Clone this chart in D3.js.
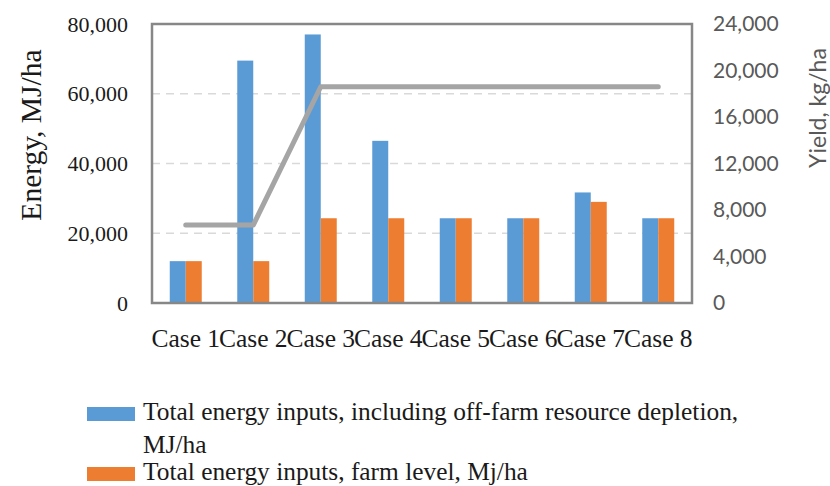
<!DOCTYPE html>
<html>
<head>
<meta charset="utf-8">
<script src="https://cdn.jsdelivr.net/npm/d3@7"></script>
<style>
  html, body { margin: 0; padding: 0; background: #fff; }
  svg { display: block; }
</style>
</head>
<body>
<svg id="chart" width="830" height="486"></svg>
<script>
// Energy inputs per case (MJ/ha) and grain yield (kg/ha)
const cases = ["Case 1", "Case 2", "Case 3", "Case 4", "Case 5", "Case 6", "Case 7", "Case 8"];
const totalWithDepletion = [12000, 69500, 77000, 46500, 24300, 24300, 31700, 24300];
const totalFarmLevel = [12000, 12000, 24300, 24300, 24300, 24300, 29000, 24300];
const yieldValues = [6700, 6700, 18600, 18600, 18600, 18600, 18600, 18600];

const energyTicks = [0, 20000, 40000, 60000, 80000];
const yieldTicks = [0, 4000, 8000, 12000, 16000, 20000, 24000];
const gridTicks = [20000, 40000, 60000];

const seriesNames = [
  "Total energy inputs, including off-farm resource depletion,",
  "Total energy inputs, farm level, Mj/ha"
];
const seriesColors = ["#5b9bd5", "#ed7d31"];

const svg = d3.select("#chart");
const plot = { left: 152, right: 692, top: 24, bottom: 303 };

const x = d3.scaleBand().domain(cases).range([plot.left, plot.right]).padding(0);
const groupW = x.bandwidth() * 0.474;
const xInner = d3.scaleBand().domain([0, 1]).range([0, groupW]).padding(0);
const yE = d3.scaleLinear().domain([0, 80000]).range([plot.bottom, plot.top]);
const yY = d3.scaleLinear().domain([0, 24000]).range([plot.bottom, plot.top]);
const fmt = d3.format(",");

const serif = "'Liberation Serif', 'Times New Roman', serif";
const sans = "Lato, 'Open Sans', sans-serif";

// dashed horizontal gridlines
svg.append("g")
  .selectAll("line")
  .data(gridTicks)
  .join("line")
  .attr("x1", plot.left).attr("x2", plot.right)
  .attr("y1", d => yE(d)).attr("y2", d => yE(d))
  .attr("stroke", "#d9d9d9")
  .attr("stroke-width", 1.5)
  .attr("stroke-dasharray", "8,6");

// grouped bars
const seriesData = [totalWithDepletion, totalFarmLevel];
const groups = svg.append("g")
  .selectAll("g")
  .data(cases)
  .join("g")
  .attr("transform", d => `translate(${x(d) + (x.bandwidth() - groupW) / 2},0)`);

groups.selectAll("rect")
  .data((d, i) => seriesData.map((s, k) => ({ k, v: s[i] })))
  .join("rect")
  .attr("x", d => xInner(d.k))
  .attr("width", xInner.bandwidth())
  .attr("y", d => yE(d.v))
  .attr("height", d => yE(0) - yE(d.v))
  .attr("fill", d => seriesColors[d.k]);

// yield line on secondary axis
const line = d3.line()
  .x((d, i) => x(cases[i]) + x.bandwidth() / 2)
  .y(d => yY(d));
svg.append("path")
  .datum(yieldValues)
  .attr("d", line)
  .attr("fill", "none")
  .attr("stroke", "#a5a5a5")
  .attr("stroke-width", 5)
  .attr("stroke-linecap", "round")
  .attr("stroke-linejoin", "round");

// plot frame
svg.append("rect")
  .attr("x", plot.left).attr("y", plot.top)
  .attr("width", plot.right - plot.left)
  .attr("height", plot.bottom - plot.top)
  .attr("fill", "none")
  .attr("stroke", "#878787")
  .attr("stroke-width", 2.5);

// left axis
const leftAxis = svg.append("g")
  .attr("transform", `translate(${plot.left},0)`)
  .call(d3.axisLeft(yE).tickValues(energyTicks).tickFormat(fmt).tickSize(0).tickPadding(24));
leftAxis.select(".domain").remove();
leftAxis.selectAll("text")
  .attr("font-family", serif)
  .attr("font-size", 22)
  .attr("fill", "#1a1a1a");

// right axis
const rightAxis = svg.append("g")
  .attr("transform", `translate(${plot.right},0)`)
  .call(d3.axisRight(yY).tickValues(yieldTicks).tickFormat(fmt).tickSize(0).tickPadding(21));
rightAxis.select(".domain").remove();
rightAxis.selectAll("text")
  .attr("font-family", sans)
  .attr("font-size", 21)
  .attr("fill", "#595959");

// category axis
const bottomAxis = svg.append("g")
  .attr("transform", `translate(0,${plot.bottom})`)
  .call(d3.axisBottom(x).tickSize(0).tickPadding(26));
bottomAxis.select(".domain").remove();
bottomAxis.selectAll("text")
  .attr("font-family", serif)
  .attr("font-size", 25.5)
  .attr("fill", "#1a1a1a");

// axis titles
svg.append("text")
  .attr("transform", "translate(41,135) rotate(-90)")
  .attr("text-anchor", "middle")
  .attr("font-family", serif)
  .attr("font-size", 29.5)
  .attr("fill", "#1a1a1a")
  .text("Energy, MJ/ha");

svg.append("text")
  .attr("transform", "translate(826,108) rotate(-90)")
  .attr("text-anchor", "middle")
  .attr("font-family", sans)
  .attr("font-size", 23)
  .attr("fill", "#595959")
  .text("Yield, kg/ha");

// legend
const legend = svg.append("g").attr("font-family", serif).attr("font-size", 25.4).attr("fill", "#1a1a1a");
legend.append("rect").attr("x", 87).attr("y", 407).attr("width", 48).attr("height", 14).attr("fill", seriesColors[0]);
legend.append("text").attr("x", 143).attr("y", 420).text(seriesNames[0]);
legend.append("text").attr("x", 143).attr("y", 453).text("MJ/ha");
legend.append("rect").attr("x", 87).attr("y", 467).attr("width", 48).attr("height", 14).attr("fill", seriesColors[1]);
legend.append("text").attr("x", 143).attr("y", 480).text(seriesNames[1]);
</script>
</body>
</html>
